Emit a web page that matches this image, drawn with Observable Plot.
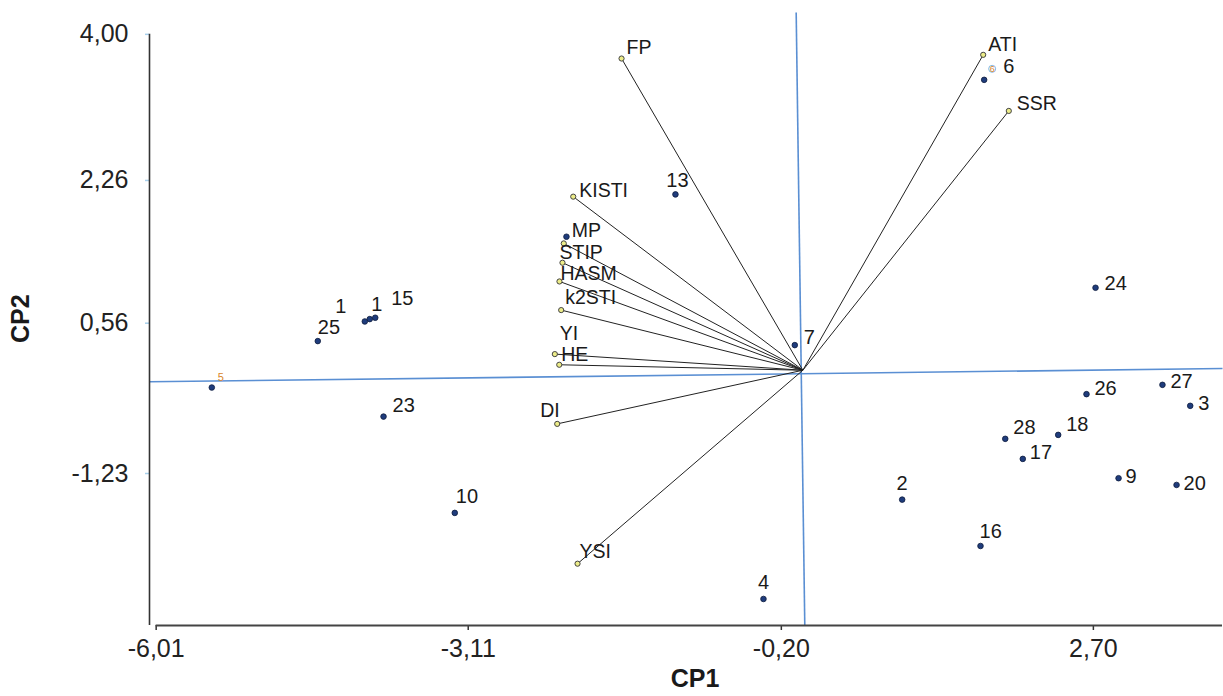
<!DOCTYPE html>
<html><head><meta charset="utf-8">
<script src="https://cdn.jsdelivr.net/npm/d3@7"></script>
<script src="https://cdn.jsdelivr.net/npm/@observablehq/plot@0.6"></script>
<style>body{margin:0;background:#fff} svg{display:block}</style>
</head><body><div id="chart"></div>
<script>
// Observations (genotypes)
const obsLabels = ["1","1","15","25","5","23","10","13","7","4","2","16","28","17","18","26","24","9","20","27","3","6",""];
const obsX = [-4.071,-4.025,-3.974,-4.508,-5.493,-3.897,-3.235,-1.184,-0.075,-0.366,0.923,1.651,1.881,2.044,2.373,2.636,2.720,2.934,3.473,3.342,3.600,1.685,-2.197];
const obsY = [0.581,0.609,0.625,0.347,-0.206,-0.552,-1.699,2.094,0.299,-2.724,-1.541,-2.093,-0.817,-1.056,-0.770,-0.285,0.982,-1.286,-1.366,-0.174,-0.424,3.458,1.590];

// Variable vectors (indices)
const varNames = ["FP","KISTI","MP","STIP","HASM","k2STI","YI","HE","DI","YSI","ATI","SSR"];
const varX = [-1.685,-2.134,-2.222,-2.234,-2.262,-2.246,-2.305,-2.264,-2.283,-2.094,1.676,1.914];
const varY = [3.712,2.067,1.510,1.280,1.057,0.716,0.192,0.065,-0.639,-2.304,3.756,3.088];

// Rotated reference axes (blue)
const refX1 = [-6.072, -0.062];
const refY1 = [-0.138, 4.26];
const refX2 = [3.90, 0.018];
const refY2 = [0.020, -3.04];

// Axis ticks
const xTicks = [-6.01, -3.11, -0.20, 2.70];
const yTicks = [4.00, 2.26, 0.56, -1.23];
const xLabel = "CP1";
const yLabel = "CP2";

const xDomain = [-6.072, 3.90];
const yDomain = [-3.04, 4.26];
const origin = [0, 0];

const obs = obsLabels.map((l, i) => ({label: l, x: obsX[i], y: obsY[i], i}));
const vars = varNames.map((n, i) => ({name: n, x: varX[i], y: varY[i]}));
const refs = refX1.map((v, i) => ({x1: v, y1: refY1[i], x2: refX2[i], y2: refY2[i]}));

const fmt = d => d.toFixed(2).replace(".", ",");
const FONT = "Liberation Sans, Arial, Helvetica, sans-serif";

// label offsets (styling only)
const obsOff = {
  0: [-24, -15, "middle"], 1: [7, -14, "middle"], 2: [16, -19, "start"], 3: [0, -13, "start"],
  5: [9, -11, "start"], 6: [1, -16, "start"], 7: [2, -14, "middle"], 8: [9, -8, "start"],
  9: [0, -16, "middle"], 10: [0, -16, "middle"], 11: [-1, -14, "start"], 12: [8, -11, "start"],
  13: [7, -6, "start"], 14: [8, -10, "start"], 15: [8, -6, "start"], 16: [9, -4, "start"],
  17: [7, -2, "start"], 18: [7, -1, "start"], 19: [8, -3, "start"], 20: [8, -2, "start"],
  21: [19, -13, "start"]
};
const varOff = {
  FP: [5, -11], KISTI: [6, -6], MP: [8, -13], STIP: [-3, -10], HASM: [1, -8], k2STI: [4, -12],
  YI: [5, -20], HE: [2, -10], DI: [-17, -13], YSI: [2, -12], ATI: [5, -10], SSR: [8, -7]
};

const obsTextMarks = obs.filter(d => obsOff[d.i]).map(d => Plot.text([d], {
  x: "x", y: "y", text: "label", dx: obsOff[d.i][0], dy: obsOff[d.i][1],
  textAnchor: obsOff[d.i][2], fontSize: 20, fill: "#1a1a1a"
}));
// tiny stray labels (as in the reference)
const tinyMarks = [
  Plot.text(obs.filter(d => d.label === "5"), {x: "x", y: "y", text: "label", dx: 9, dy: -10, fontSize: 11, fill: "#d9862c"}),
  Plot.dot(obs.filter(d => d.label === "6"), {x: "x", y: "y", r: 3.5, dx: 8, dy: -11, stroke: "#7fb6e6", strokeWidth: 1, fill: "none"}),
  Plot.text(obs.filter(d => d.label === "6"), {x: "x", y: "y", text: "label", dx: 8, dy: -11, fontSize: 9, fill: "#d9862c"})
];
const varTextMarks = vars.map(d => Plot.text([d], {
  x: "x", y: "y", text: "name", dx: varOff[d.name][0], dy: varOff[d.name][1],
  textAnchor: "start", fontSize: 19.5, fill: "#1a1a1a"
}));

const chart = Plot.plot({
  width: 1223,
  height: 696,
  marginLeft: 149,
  marginRight: 1,
  marginTop: 12,
  marginBottom: 71,
  style: {fontFamily: FONT, color: "#222", background: "#fff"},
  x: {domain: xDomain, axis: null},
  y: {domain: yDomain, axis: null},
  marks: [
    Plot.link(refs, {x1: "x1", y1: "y1", x2: "x2", y2: "y2", stroke: "#5a8fd3", strokeWidth: 1.6}),
    Plot.link(vars, {x1: () => origin[0], y1: () => origin[1], x2: "x", y2: "y", stroke: "#222", strokeWidth: 1}),
    // axes
    Plot.axisX(xTicks, {tickFormat: fmt, tickSize: 5, tickPadding: 9, fontSize: 25, stroke: "#333", strokeWidth: 1.5, fill: "#222", label: null}),
    Plot.axisY(yTicks, {tickFormat: fmt, tickSize: 4, tickPadding: 17, fontSize: 25, stroke: "#a8d0ec", strokeWidth: 1.5, fill: "#222", label: null}),
    Plot.ruleY([yDomain[0]], {x1: () => xTicks[0], x2: () => xDomain[1], stroke: "#444", strokeWidth: 2.2}),
    Plot.ruleX([xDomain[0]], {y1: () => yDomain[0], y2: () => yTicks[0], stroke: "#333", strokeWidth: 1.6}),
    Plot.text([xLabel], {frameAnchor: "bottom", text: d => d, dx: 9, dy: 61, fontSize: 25, fontWeight: "bold", fill: "#1a1a1a"}),
    Plot.text([yLabel], {frameAnchor: "left", text: d => d, dx: -129, dy: 24, rotate: -90, fontSize: 25, fontWeight: "bold", fill: "#1a1a1a"}),
    // points
    Plot.dot(obs, {x: "x", y: "y", r: 2.8, fill: "#1f3c7c", stroke: "#0e1c3c", strokeWidth: 0.8}),
    Plot.dot(vars, {x: "x", y: "y", r: 2.6, fill: "#ecec88", stroke: "#444", strokeWidth: 1}),
    ...tinyMarks,
    ...obsTextMarks,
    ...varTextMarks
  ]
});
document.getElementById("chart").append(chart);
</script>
</body></html>
